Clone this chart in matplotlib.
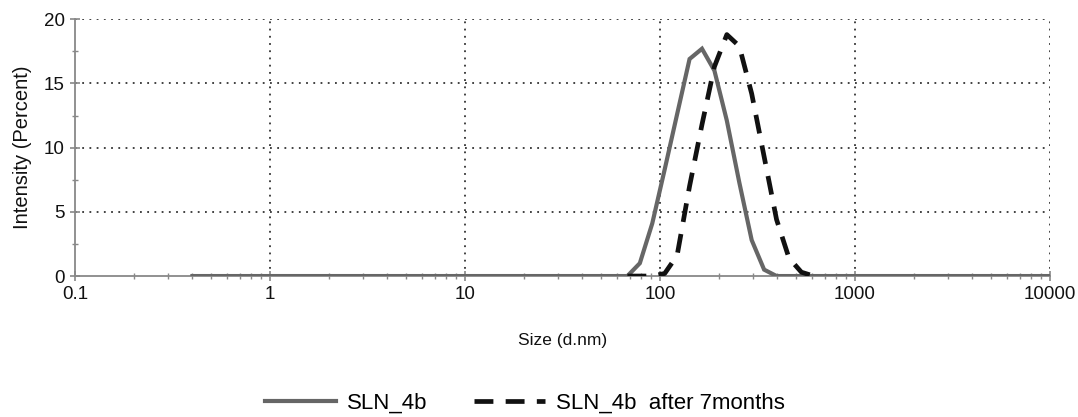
import matplotlib
matplotlib.use('Agg')
import matplotlib.pyplot as plt
from matplotlib.ticker import LogLocator, MultipleLocator, FixedLocator

plt.rcParams['font.family'] = ['Liberation Sans', 'DejaVu Sans']

# ── Data: Zetasizer size bins (d.nm) and intensity distributions (%) ─────────
sizes = [0.4000, 0.4632, 0.5365, 0.6213, 0.7195, 0.8332, 0.9649, 1.117, 1.294,
         1.499, 1.736, 2.010, 2.328, 2.696, 3.122, 3.615, 4.187, 4.849, 5.615,
         6.503, 7.531, 8.721, 10.10, 11.70, 13.54, 15.69, 18.17, 21.04, 24.36,
         28.21, 32.67, 37.84, 43.82, 50.75, 58.77, 68.06, 78.82, 91.28, 105.7,
         122.4, 141.8, 164.2, 190.1, 220.2, 255.0, 295.3, 342.0, 396.1, 458.7,
         531.2, 615.1, 712.4, 825.0, 955.4, 1106, 1281, 1484, 1718, 1990, 2305,
         2669, 3091, 3580, 4145, 4801, 5560, 6439, 7456, 8635, 10000]

# SLN_4b: bins 0..35 are zero, peak spans 78.82 - 342.0 nm
sln_4b = ([0.0] * 36
          + [1.0, 4.1, 8.3, 12.6, 16.9, 17.7, 16.0, 12.1, 7.3, 2.8, 0.5]
          + [0.0] * 23)

# SLN_4b after 7 months, drawn over bins 68.06 - 615.1 nm only
aged_sizes = sizes[35:51]
sln_4b_aged = [0.0, 0.0, 0.0, 0.2, 1.6, 7.0, 11.8, 16.3, 18.8, 17.9, 14.2,
               9.3, 4.4, 1.4, 0.3, 0.0]

x_ticks = [0.1, 1, 10, 100, 1000, 10000]
x_ticklabels = ['0.1', '1', '10', '100', '1000', '10000']
y_ticks = [0, 5, 10, 15, 20]

# ── Figure ────────────────────────────────────────────────────────────────────
fig = plt.figure(figsize=(10.78, 4.17), dpi=100)
ax = fig.add_axes([0.0696, 0.338, 0.9044, 0.616])

grid_kw = dict(color='#333333', lw=1.3, ls=(0, (1, 3)), zorder=1)
for yv in y_ticks[1:]:
    ax.axhline(yv, **grid_kw)
for xv in x_ticks[1:]:
    ax.axvline(xv, **grid_kw)

ax.plot(sizes, sln_4b, color='#666666', lw=3.0, solid_joinstyle='miter',
        label='SLN_4b', zorder=3)
ax.plot(aged_sizes, sln_4b_aged, color='#111111', lw=3.4,
        ls=(0, (4, 2.6)), label='SLN_4b  after 7months', zorder=4)

ax.set_xscale('log')
ax.set_xlim(0.1, 10000)
ax.set_ylim(0, 20)

ax.xaxis.set_major_locator(FixedLocator(x_ticks))
ax.set_xticklabels(x_ticklabels)
ax.xaxis.set_minor_locator(LogLocator(base=10, subs=range(2, 10), numticks=20))
ax.xaxis.set_minor_formatter(plt.NullFormatter())
ax.yaxis.set_major_locator(FixedLocator(y_ticks))
ax.yaxis.set_minor_locator(MultipleLocator(2.5))

for s in ['top', 'right']:
    ax.spines[s].set_visible(False)
for s in ['left', 'bottom']:
    ax.spines[s].set_color('#888888')
    ax.spines[s].set_linewidth(1.3)
    ax.spines[s].set_zorder(2)

ax.tick_params(which='major', direction='inout', length=7, width=1.2,
               color='#888888', labelsize=13.5, labelcolor='#111111', pad=4)
ax.tick_params(which='minor', direction='inout', length=5, width=1.0,
               color='#888888')

ax.set_xlabel('Size (d.nm)', fontsize=12.5, color='#111111', va='center')
ax.xaxis.set_label_coords(0.5, -0.249)
ax.set_ylabel('Intensity (Percent)', fontsize=14.5, color='#111111',
              va='center')
ax.yaxis.set_label_coords(-0.054, 0.5)

fig.legend(loc='center', bbox_to_anchor=(0.487, 1 - 403 / 417), ncol=2,
           frameon=False, fontsize=16, handlelength=3.2, handletextpad=0.5,
           columnspacing=2.1)

fig.savefig('out.png', dpi=100)
